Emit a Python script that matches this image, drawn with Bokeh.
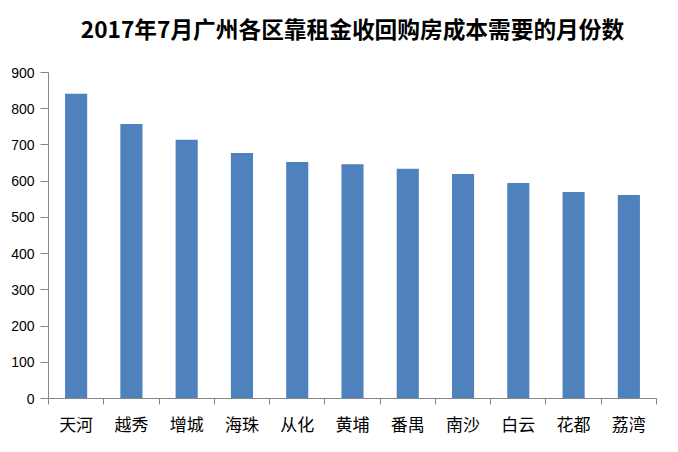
from bokeh.plotting import figure
from bokeh.models import Range1d, FixedTicker, Title
from bokeh.embed import file_html
from bokeh.resources import INLINE

title_text = "2017年7月广州各区靠租金收回购房成本需要的月份数"
districts = ["天河", "越秀", "增城", "海珠", "从化", "黄埔", "番禺", "南沙", "白云", "花都", "荔湾"]
months = [841, 758, 714, 678, 653, 647, 634, 620, 595, 570, 562]
y_ticks = [0, 100, 200, 300, 400, 500, 600, 700, 800, 900]

n = len(districts)
centers = [i + 0.5 for i in range(n)]
bounds = [float(i) for i in range(n + 1)]

p = figure(width=660, height=444, output_backend="svg", toolbar_location=None,
           x_range=Range1d(0, n), y_range=Range1d(0, 900),
           min_border_left=48, min_border_right=4, min_border_top=0, min_border_bottom=46)

p.vbar(x=centers, top=months, width=0.4, color="#4F81BD", line_color=None)

p.title.text = title_text
p.title.align = "center"
p.title.offset = -14
p.title.text_font = "Noto Sans CJK SC"
p.title.text_font_style = "bold"
p.title.text_font_size = "22.7px"
p.title.text_color = "#000000"
p.title.standoff = 18

spacer = Title(text=" ", text_font_size="15px", standoff=0)
p.add_layout(spacer, "above")

p.xgrid.visible = False
p.ygrid.visible = False
p.outline_line_color = None
p.background_fill_color = "white"
p.border_fill_color = "white"

ax = p.xaxis[0]
ax.ticker = FixedTicker(ticks=centers, minor_ticks=bounds)
ax.major_label_overrides = {c: d for c, d in zip(centers, districts)}
ax.major_tick_out = 0
ax.major_tick_in = 0
ax.minor_tick_out = 6
ax.minor_tick_in = 0
ax.minor_tick_line_color = "#868686"
ax.axis_line_color = "#868686"
ax.major_label_standoff = 6
ax.major_label_text_font = "Noto Sans CJK SC"
ax.major_label_text_font_size = "17px"
ax.major_label_text_color = "#000000"

ay = p.yaxis[0]
ay.ticker = FixedTicker(ticks=y_ticks)
ay.major_tick_out = 8
ay.major_tick_in = 0
ay.minor_tick_out = 0
ay.minor_tick_in = 0
ay.major_tick_line_color = "#868686"
ay.axis_line_color = "#868686"
ay.major_label_standoff = 6
ay.major_label_text_font = "Liberation Sans"
ay.major_label_text_font_size = "14px"
ay.major_label_text_color = "#000000"

open("out.html", "w").write(file_html(p, INLINE))
